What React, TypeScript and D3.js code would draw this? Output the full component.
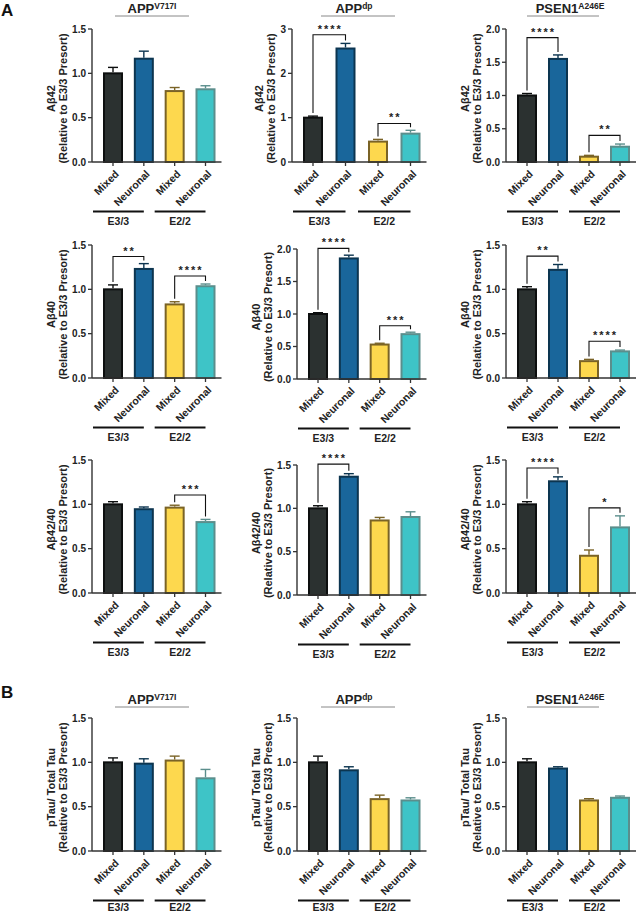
import * as d3 from "d3";

// categories
const groups = ["Mixed", "Neuronal", "Mixed", "Neuronal"];
const genotypes = ["E3/3", "E2/2"];
const lineNames = ["APP", "APP", "PSEN1"];
const lineSups = ["V717I", "dp", "A246E"];
const measures = ["Aβ42", "Aβ40", "Aβ42/40", "pTau/ Total Tau"];
const yMax = [
  [1.5, 3, 2],
  [1.5, 2, 1.5],
  [1.5, 1.5, 1.5],
  [1.5, 1.5, 1.5],
];

// means / upper SEM, one row per cell line (V717I, dp, A246E)
const ab42Mean = [[1.0, 1.165, 0.8, 0.82], [1.0, 2.56, 0.46, 0.64], [1.0, 1.55, 0.08, 0.23]];
const ab42Sem = [[0.067, 0.085, 0.04, 0.04], [0.035, 0.115, 0.05, 0.075], [0.03, 0.06, 0.02, 0.04]];
const ab40Mean = [[1.0, 1.23, 0.83, 1.035], [1.0, 1.855, 0.53, 0.69], [1.0, 1.22, 0.19, 0.3]];
const ab40Sem = [[0.05, 0.06, 0.03, 0.025], [0.02, 0.05, 0.02, 0.03], [0.03, 0.06, 0.02, 0.015]];
const ratioMean = [[1.0, 0.945, 0.963, 0.8], [1.0, 1.365, 0.86, 0.9], [1.0, 1.26, 0.42, 0.74]];
const ratioSem = [[0.03, 0.025, 0.027, 0.03], [0.03, 0.035, 0.035, 0.06], [0.03, 0.05, 0.065, 0.13]];
const ptauMean = [[1.0, 0.985, 1.02, 0.82], [1.0, 0.91, 0.585, 0.57], [1.0, 0.93, 0.57, 0.6]];
const ptauSem = [[0.05, 0.055, 0.05, 0.1], [0.07, 0.04, 0.045, 0.03], [0.04, 0.02, 0.02, 0.02]];

// significance: [from, to, label, bracket height in data units]
const ab42Sig = [[], [[0, 1, "****", 2.87], [2, 3, "**", 0.87]], [[0, 1, "****", 1.87], [2, 3, "**", 0.4]]];
const ab40Sig = [[[0, 1, "**", 1.37], [2, 3, "****", 1.15]], [[0, 1, "****", 2.01], [2, 3, "***", 0.82]], [[0, 1, "**", 1.375], [2, 3, "****", 0.415]]];
const ratioSig = [[[2, 3, "***", 1.105]], [[0, 1, "****", 1.51]], [[0, 1, "****", 1.41], [2, 3, "*", 0.96]]];
const ptauSig = [[], [], []];

const means = [ab42Mean, ab40Mean, ratioMean, ptauMean];
const sems = [ab42Sem, ab40Sem, ratioSem, ptauSem];
const sigs = [ab42Sig, ab40Sig, ratioSig, ptauSig];

// layout
const W = 643;
const H = 915;
const plotTop = [[29, 29, 29], [245, 249, 245], [460, 465, 460], [718, 718, 718]];
const plotBottom = [[162, 162, 162], [378, 379, 378], [593, 595, 593], [851, 851, 851]];
const axisX = [[92, 292, 506], [92, 297, 506], [92, 297, 506], [92, 297, 506]];
const lastCenter = [205.5, 410.5, 620];
const titleCenter = [152, 354, 570];
const titleLine = [[115, 189], [321, 395], [527, 599]];

const font = "'Liberation Sans', Arial, Helvetica, sans-serif";
const fills = ["#2b3130", "#19669b", "#fdd84e", "#3ec4c7"];
const strokes = ["#0d0f0f", "#0c3550", "#7a6326", "#5b8e8c"];
const axisColor = "#333";

function Panel({ r, c }: { r: number; c: number }) {
  const top = plotTop[r][c];
  const bottom = plotBottom[r][c];
  const ax = axisX[r][c];
  const max = yMax[r][c];
  const step = max >= 3 ? 1 : 0.5;
  const y = d3.scaleLinear().domain([0, max]).range([bottom, top]);
  const x = d3
    .scalePoint<number>()
    .domain(d3.range(groups.length))
    .range([ax + 21, lastCenter[c]]);
  const ticks = d3.range(0, max + 1e-6, step);
  const fmt = step === 1 ? d3.format("d") : d3.format(".1f");
  const m = means[r][c];
  const s = sems[r][c];
  const xEnd = lastCenter[c] + 16;
  const mid = (top + bottom) / 2 + 3;
  const t1 = step === 1 ? ax - 33 : ax - 41;
  const t2 = step === 1 ? ax - 21 : ax - 29;
  const gy = Math.min(bottom + 63, H - 4);

  return (
    <g fontFamily={font} fontWeight="bold">
      {/* bars */}
      {m.map((v, i) => (
        <rect
          key={"b" + i}
          x={x(i)! - 9}
          y={y(v)}
          width={18}
          height={bottom - y(v)}
          fill={fills[i]}
          stroke={strokes[i]}
          strokeWidth={2}
        />
      ))}
      {/* error bars */}
      {m.map((v, i) => (
        <g key={"e" + i} stroke={strokes[i]} strokeWidth={1.4}>
          <line x1={x(i)} x2={x(i)} y1={y(v) - 1} y2={y(v + s[i])} />
          <line x1={x(i)! - 5} x2={x(i)! + 5} y1={y(v + s[i])} y2={y(v + s[i])} />
        </g>
      ))}
      {/* axes */}
      <line x1={ax} x2={ax} y1={top} y2={bottom} stroke={axisColor} strokeWidth={1.4} />
      <line x1={ax} x2={xEnd} y1={bottom} y2={bottom} stroke={axisColor} strokeWidth={1.4} />
      {ticks.map((t) => (
        <g key={"t" + t}>
          <line x1={ax - 4} x2={ax} y1={y(t)} y2={y(t)} stroke={axisColor} strokeWidth={1.3} />
          <text x={ax - 6} y={y(t)} textAnchor="end" dominantBaseline="central" fontSize={10} fill="#222">
            {fmt(t)}
          </text>
        </g>
      ))}
      {groups.map((g, i) => (
        <g key={"x" + i}>
          <line x1={x(i)} x2={x(i)} y1={bottom} y2={bottom + 4} stroke={axisColor} strokeWidth={1.3} />
          <text
            transform={`translate(${x(i)! + 4},${bottom + 10}) rotate(-45)`}
            textAnchor="end"
            dy="0.35em"
            fontSize={10.5}
            fill="#222"
          >
            {g}
          </text>
        </g>
      ))}
      {/* genotype groups */}
      {genotypes.map((g, k) => {
        const a = x(k * 2)! - 20;
        const b = x(k * 2 + 1)!;
        return (
          <g key={"g" + k}>
            <line x1={a} x2={b} y1={bottom + 49.5} y2={bottom + 49.5} stroke="#111" strokeWidth={2} />
            <text x={(a + b) / 2} y={gy} textAnchor="middle" fontSize={10.5} fill="#222">
              {g}
            </text>
          </g>
        );
      })}
      {/* y title */}
      <text
        transform={`translate(${t1},${mid}) rotate(-90)`}
        textAnchor="middle"
        dominantBaseline="central"
        fontSize={11}
        fill="#222"
      >
        {measures[r]}
      </text>
      <text
        transform={`translate(${t2},${mid}) rotate(-90)`}
        textAnchor="middle"
        dominantBaseline="central"
        fontSize={11}
        fill="#222"
      >
        (Relative to E3/3 Presort)
      </text>
      {/* significance */}
      {sigs[r][c].map((sg: any, k: number) => {
        const [i, j, label, h] = sg;
        const by = y(h);
        const l1 = y(m[i] + s[i]) - 3;
        const l2 = y(m[j] + s[j]) - 3;
        return (
          <g key={"s" + k}>
            <path
              d={`M${x(i)},${l1}V${by}H${x(j)}V${l2}`}
              fill="none"
              stroke="#111"
              strokeWidth={1.1}
            />
            <text x={(x(i)! + x(j)!) / 2 + 1} y={by - 2} textAnchor="middle" fontSize={11} letterSpacing={2} fill="#222">
              {label}
            </text>
          </g>
        );
      })}
    </g>
  );
}

function Titles({ base }: { base: number }) {
  return (
    <g fontFamily={font} fontWeight="bold" fill="#222">
      {lineNames.map((n, c) => (
        <g key={c}>
          <text x={titleCenter[c]} y={base} textAnchor="middle" fontSize={13}>
            {n}
            <tspan fontSize={8.5} dy={-4.5}>
              {lineSups[c]}
            </tspan>
          </text>
          <line
            x1={titleLine[c][0]}
            x2={titleLine[c][1]}
            y1={base + 3}
            y2={base + 3}
            stroke="#888"
            strokeWidth={1}
          />
        </g>
      ))}
    </g>
  );
}

export default function App() {
  return (
    <div style={{ position: "absolute", left: 0, top: 0 }}>
      <svg width={W} height={H} style={{ display: "block", background: "#fff" }}>
        <text x={1} y={16} fontFamily={font} fontWeight="bold" fontSize={17} fill="#111">
          A
        </text>
        <text x={1} y={698} fontFamily={font} fontWeight="bold" fontSize={17} fill="#111">
          B
        </text>
        <Titles base={13} />
        <Titles base={704} />
        {measures.map((_, r) => lineNames.map((__, c) => <Panel key={r + "-" + c} r={r} c={c} />))}
      </svg>
    </div>
  );
}
